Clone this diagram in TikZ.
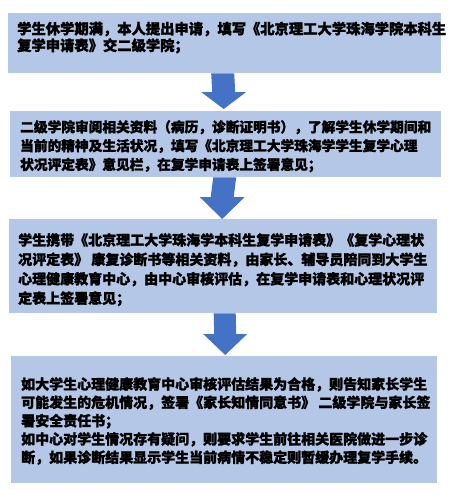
\documentclass[tikz,border=0pt]{standalone}
\usepackage{fontspec}
\newfontfamily\cjk{Noto Sans CJK SC}[FakeBold=1.6]
\usetikzlibrary{calc}
\definecolor{boxfill}{HTML}{B4C7E7}
\definecolor{arrfill}{HTML}{4472C4}
\tikzset{
  box/.style={fill=boxfill, draw=none, anchor=north west, inner sep=0pt},
  txt/.style={anchor=north west, inner sep=0pt, align=left, text=black},
  arr/.style={fill=arrfill, draw=none}
}
\begin{document}
\begin{tikzpicture}[x=1pt,y=-1pt]
\useasboundingbox (0,0) rectangle (457,495);
% boxes
\node[box, minimum width=433pt, minimum height=60pt] (b1) at (8,13) {};
\node[box, minimum width=431pt, minimum height=66pt] (b2) at (10,111) {};
\node[box, minimum width=428pt, minimum height=94pt] (b3) at (9,219) {};
\node[box, minimum width=426pt, minimum height=127pt] (b4) at (11,356) {};
% texts
\node[txt, font={\cjk\bfseries\fontsize{14.3}{16.7}\selectfont}] (t1) at (17,21.5)
 {学生休学期满，本人提出申请，填写《北京理工大学珠海学院本科生\\复学申请表》交二级学院；};
\node[txt, font={\cjk\bfseries\fontsize{13.7}{18.8}\selectfont}] (t2) at (20,120)
 {二级学院审阅相关资料（病历，诊断证明书），了解学生休学期间和\\当前的精神及生活状况，填写《北京理工大学珠海学学生复学心理\\状况评定表》意见栏，在复学申请表上签署意见；};
\node[txt, font={\cjk\bfseries\fontsize{14}{19.4}\selectfont}] (t3) at (18,233)
 {学生携带《北京理工大学珠海学本科生复学申请表》《复学心理状\\况评定表》 康复诊断书等相关资料，由家长、辅导员陪同到大学生\\心理健康教育中心，由中心审核评估，在复学申请表和心理状况评\\定表上签署意见；};
\node[txt, font={\cjk\bfseries\fontsize{14}{18.3}\selectfont}] (t4) at (21,377)
 {如大学生心理健康教育中心审核评估结果为合格，则告知家长学生\\可能发生的危机情况，签署《家长知情同意书》 二级学院与家长签\\署安全责任书；\\如中心对学生情况存有疑问，则要求学生前往相关医院做进一步诊\\断，如果诊断结果显示学生当前病情不稳定则暂缓办理复学手续。};
% arrow anchors
\path (b1.south) ++(-2,0) coordinate (s1);
\path (b2.north) ++(-2,-2) coordinate (e1);
\path (b2.south) ++(-1,0) coordinate (s2);
\path (b3.north) ++(-1,0) coordinate (e2);
\path (b3.south) ++(1.5,0) coordinate (s3);
\path (b4.north) ++(1,-1) coordinate (e3);
% arrows
\fill[arr] ($(s1)+(-11.5,0)$) -- ($(s1)+(11.5,0)$) -- ($(e1)+(11.5,-17)$) -- ($(e1)+(22.5,-17)$) -- (e1) -- ($(e1)+(-22.5,-17)$) -- ($(e1)+(-11.5,-17)$) -- cycle;
\fill[arr] ($(s2)+(-11.5,0)$) -- ($(s2)+(11.5,0)$) -- ($(e2)+(11.5,-22)$) -- ($(e2)+(22.5,-22)$) -- (e2) -- ($(e2)+(-22.5,-22)$) -- ($(e2)+(-11.5,-22)$) -- cycle;
\fill[arr] ($(s3)+(-11,0)$) -- ($(s3)+(11,0)$) -- ($(e3)+(11,-21)$) -- ($(e3)+(22,-21)$) -- (e3) -- ($(e3)+(-22,-21)$) -- ($(e3)+(-11,-21)$) -- cycle;
\end{tikzpicture}
\end{document}
